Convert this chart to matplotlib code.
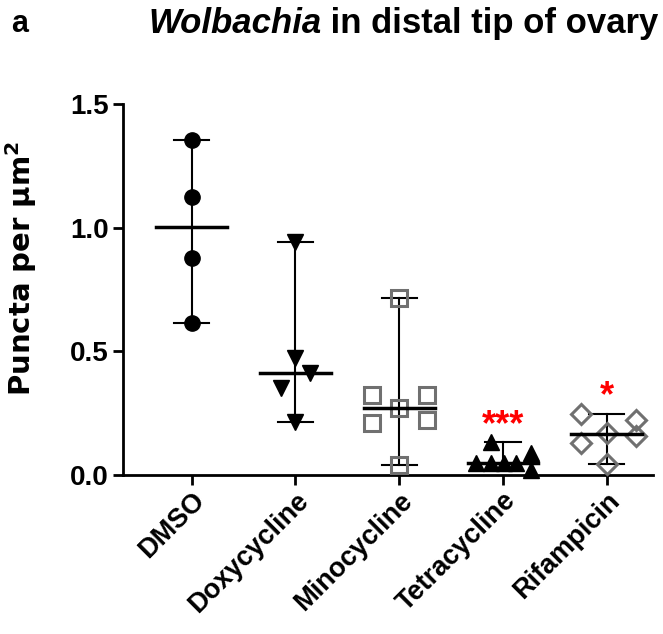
import numpy as np
import matplotlib
matplotlib.use("Agg")
import matplotlib.pyplot as plt

plt.rcParams['font.family'] = ['Liberation Sans', 'DejaVu Sans']
plt.rcParams['font.weight'] = 'bold'

# data
drugs = ['DMSO', 'Doxycycline', 'Minocycline', 'Tetracycline', 'Rifampicin']
dmso = [1.356, 1.125, 0.879, 0.615]
doxy = [0.94, 0.474, 0.413, 0.352, 0.215]
mino = [0.717, 0.324, 0.324, 0.271, 0.223, 0.21, 0.04]
tetra = [0.133, 0.089, 0.05, 0.05, 0.05, 0.05, 0.02]
rifa = [0.247, 0.223, 0.17, 0.158, 0.13, 0.045]
stars = ['', '', '', '***', '*']

# layout: horizontal scatter of the points within each group
offsets = [
    [0, 0, 0, 0],
    [0, 0, 0.14, -0.14, 0],
    [0, -0.26, 0.27, 0, 0.27, -0.26, 0],
    [-0.12, 0.27, -0.26, -0.12, 0.01, 0.13, 0.27],
    [-0.25, 0.28, 0, 0.28, -0.25, 0],
]
groups = [dmso, doxy, mino, tetra, rifa]
styles = [
    dict(marker='o', color='black', mfc='black', ms=11),
    dict(marker='v', color='black', mfc='black', ms=11),
    dict(marker='s', color='#707070', mfc='none', ms=11.5, mew=2.2),
    dict(marker='^', color='black', mfc='black', ms=11),
    dict(marker='D', color='#707070', mfc='none', ms=10.5, mew=2.2),
]

fig = plt.figure(figsize=(6.63, 6.34), dpi=100)
ax = fig.add_axes([0.1855, 0.2508, 0.80, 0.5852])

for i, (vals, offs, st) in enumerate(zip(groups, offsets, styles)):
    vals = np.array(vals)
    x = i + np.array(offs)
    ax.plot(x, vals, ls='none', clip_on=False, zorder=3, **st)
    lo, hi, med = vals.min(), vals.max(), np.median(vals)
    ax.plot([i, i], [lo, hi], color='black', lw=1.5, zorder=2, clip_on=False)
    ax.plot([i - 0.17, i + 0.17], [hi, hi], color='black', lw=1.5, zorder=2, clip_on=False)
    ax.plot([i - 0.17, i + 0.17], [lo, lo], color='black', lw=1.5, zorder=2, clip_on=False)
    ax.plot([i - 0.34, i + 0.34], [med, med], color='black', lw=2.5, zorder=4, clip_on=False)
    if stars[i]:
        ax.text(i, hi + 0.03, stars[i], color='red', ha='center', va='baseline',
                fontsize=26, fontweight='bold')

ax.set_xlim(-0.663, 4.45)
ax.set_ylim(0, 1.5)
ax.set_yticks([0, 0.5, 1.0, 1.5])
ax.set_yticklabels(['0.0', '0.5', '1.0', '1.5'], fontsize=20, fontweight='bold')
ax.set_xticks(range(len(drugs)))
ax.set_xticklabels(drugs, rotation=45, ha='right', rotation_mode='anchor',
                   fontsize=19.5, fontweight='bold')
ax.tick_params(width=2, length=7)
ax.tick_params(axis='y', pad=3)
ax.tick_params(axis='x', pad=2)
for s in ['top', 'right']:
    ax.spines[s].set_visible(False)
for s in ['left', 'bottom']:
    ax.spines[s].set_linewidth(2)

fig.text(21 / 663, 1 - 268 / 634, 'Puncta per μm$^\\mathbf{2}$', rotation=90, ha='center', va='center',
         fontsize=21, fontweight='bold', family='DejaVu Sans')

t1 = fig.text(148 / 663, 1 - 33 / 634, 'Wolbachia', ha='left', va='baseline',
              fontsize=25, fontweight='bold', style='italic')
ax.annotate(' in distal tip of ovary', xy=(1, 0), xycoords=t1, ha='left', va='bottom',
            fontsize=25, fontweight='bold', annotation_clip=False)
fig.text(11 / 663, 1 - 32 / 634, 'a', ha='left', va='baseline', fontsize=22, fontweight='bold')

fig.savefig('out.png', dpi=100)
